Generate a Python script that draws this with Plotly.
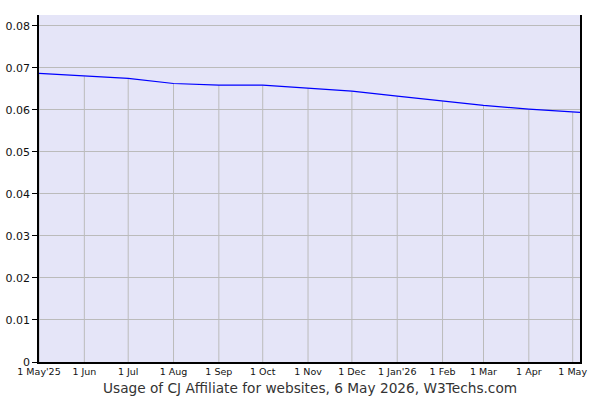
import plotly.graph_objects as go

# usage share of CJ Affiliate (fraction of websites)
dates = ["2025-05-01", "2025-06-01", "2025-07-01", "2025-08-01", "2025-09-01",
         "2025-10-01", "2025-11-01", "2025-12-01", "2026-01-01", "2026-02-01",
         "2026-03-01", "2026-04-01", "2026-05-01", "2026-05-06"]
usage = [0.0687, 0.0680, 0.0675, 0.0663, 0.0659, 0.0659, 0.0652, 0.0645,
         0.0633, 0.0621, 0.0611, 0.0602, 0.0595, 0.0594]

tick_dates = dates[:13]
tick_labels = ["1 May'25", "1 Jun", "1 Jul", "1 Aug", "1 Sep", "1 Oct", "1 Nov",
               "1 Dec", "1 Jan'26", "1 Feb", "1 Mar", "1 Apr", "1 May"]

# vertical grid lines only run up to the curve
gx, gy = [], []
for d, v in zip(tick_dates, usage[:13]):
    gx += [d, d, None]
    gy += [0, v, None]

fig = go.Figure()
fig.add_trace(go.Scatter(x=gx, y=gy, mode="lines",
                         line=dict(color="#bbbbbb", width=1),
                         hoverinfo="skip", showlegend=False))
fig.add_trace(go.Scatter(x=dates, y=usage, mode="lines",
                         line=dict(color="#0000ff", width=1.2),
                         showlegend=False))

fig.update_layout(
    width=600, height=400,
    margin=dict(l=39, r=20, t=15, b=38),
    paper_bgcolor="white",
    plot_bgcolor="#e5e5f8",
    font=dict(family="DejaVu Sans", color="#222222"),
    annotations=[dict(
        text="Usage of CJ Affiliate for websites, 6 May 2026, W3Techs.com",
        xref="paper", yref="paper", x=0.5, y=-0.075,
        xanchor="center", yanchor="middle", showarrow=False,
        font=dict(family="DejaVu Sans", size=13.7, color="#333333"))],
)
fig.update_xaxes(
    range=["2025-05-01", "2026-05-06"],
    tickvals=tick_dates, ticktext=tick_labels,
    tickfont=dict(size=9.5, color="#111111"),
    showgrid=False, zeroline=False,
    showline=True, linecolor="black", linewidth=1.5,
    ticks="", ticklabelstandoff=0, automargin=False,
)
fig.update_yaxes(
    range=[0, 0.0826], tick0=0, dtick=0.01,
    tickfont=dict(size=11, color="#111111"),
    showgrid=True, gridcolor="#bbbbbb", gridwidth=1,
    zeroline=False,
    showline=True, linecolor="black", linewidth=1.5, mirror=True,
    ticks="outside", ticklen=5, tickcolor="black", automargin=False,
)

# drop the browser's default body margin so the figure sits at the top-left
fig.write_html("out.html", config={"displayModeBar": False},
               post_script="document.body.style.margin='0px';")
